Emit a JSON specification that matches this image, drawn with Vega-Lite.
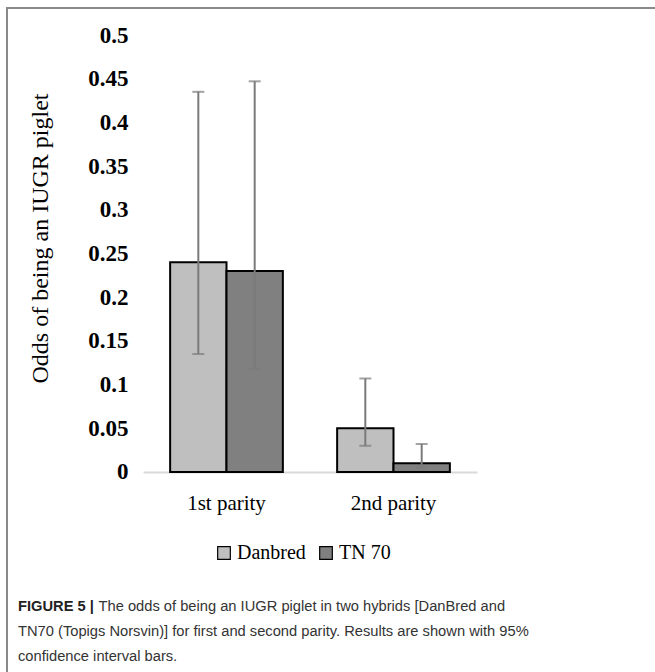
{
  "$schema": "https://vega.github.io/schema/vega-lite/v6.json",
  "width": 650,
  "height": 672,
  "autosize": "none",
  "padding": {"left": 7, "top": 8, "right": 0, "bottom": 0},
  "background": "white",
  "config": {
    "view": {"stroke": "#8a8a8a", "strokeWidth": 2, "fill": "white"}
  },
  "title": {
    "text": "FIGURE 5 |",
    "subtitle": [
      "TN70 (Topigs Norsvin)] for first and second parity. Results are shown with 95%",
      "confidence interval bars."
    ],
    "orient": "bottom",
    "anchor": "start",
    "frame": "group",
    "offset": -81,
    "dx": 11,
    "font": "Liberation Sans, sans-serif",
    "fontSize": 14.7,
    "fontWeight": "bold",
    "color": "#222222",
    "subtitleFont": "Liberation Sans, sans-serif",
    "subtitleFontSize": 14.7,
    "subtitleColor": "#333333",
    "subtitleLineHeight": 25.5,
    "subtitlePadding": 10
  },
  "data": {
    "values": [
      {"parity": "1st parity", "hybrid": "Danbred", "odds": 0.24, "lo": 0.135, "hi": 0.435},
      {"parity": "1st parity", "hybrid": "TN 70", "odds": 0.23, "lo": 0.118, "hi": 0.447},
      {"parity": "2nd parity", "hybrid": "Danbred", "odds": 0.05, "lo": 0.03, "hi": 0.107},
      {"parity": "2nd parity", "hybrid": "TN 70", "odds": 0.01, "lo": 0.005, "hi": 0.032}
    ]
  },
  "encoding": {
    "x": {
      "field": "parity",
      "type": "nominal",
      "sort": ["1st parity", "2nd parity"],
      "scale": {"range": [136, 470], "paddingInner": 0.325, "paddingOuter": 0.1625},
      "axis": {
        "title": "The odds of being an IUGR piglet in two hybrids [DanBred and",
        "titleFont": "Liberation Sans, sans-serif",
        "titleFontSize": 14.7,
        "titleFontWeight": "normal",
        "titleColor": "#333333",
        "titleX": 91,
        "titleY": 134,
        "titleAlign": "left",
        "titleBaseline": "middle",
        "orient": "bottom",
        "offset": -208,
        "domain": true,
        "domainColor": "#d9d9d9",
        "domainWidth": 2,
        "ticks": false,
        "labelAngle": 0,
        "labelFont": "Liberation Serif",
        "labelFontSize": 21,
        "labelColor": "black",
        "labelPadding": 20
      }
    },
    "xOffset": {"field": "hybrid", "type": "nominal", "sort": ["Danbred", "TN 70"], "scale": {"paddingInner": 0, "paddingOuter": 0}}
  },
  "layer": [
    {
      "mark": {"type": "bar", "stroke": "black", "strokeWidth": 2},
      "encoding": {
        "y": {
          "field": "odds",
          "type": "quantitative",
          "scale": {"domain": [-0.238, 0.5309], "nice": false, "zero": false},
          "axis": {
            "title": "Odds of being an IUGR piglet",
            "values": [0, 0.05, 0.1, 0.15, 0.2, 0.25, 0.3, 0.35, 0.4, 0.45, 0.5],
            "format": ".2~f",
            "offset": -125,
            "domain": false,
            "ticks": false,
            "grid": false,
            "labelPadding": 4,
            "labelFont": "Liberation Serif",
            "labelFontSize": 23,
            "labelFontWeight": "bold",
            "labelColor": "black",
            "titleFont": "Liberation Serif",
            "titleFontSize": 24,
            "titleFontWeight": "normal",
            "titleColor": "black",
            "titleX": -92,
            "titleY": 230,
            "titleBaseline": "middle",
            "titleAngle": -90
          }
        },
        "fill": {
          "field": "hybrid",
          "type": "nominal",
          "sort": ["Danbred", "TN 70"],
          "scale": {"range": ["#bfbfbf", "#808080"]},
          "legend": {
            "title": null,
            "orient": "none",
            "legendX": 207,
            "legendY": 535,
            "direction": "horizontal",
            "symbolType": "square",
            "symbolSize": 160,
            "symbolStrokeColor": "black",
            "symbolStrokeWidth": 1.2,
            "labelFont": "Liberation Serif",
            "labelFontSize": 20,
            "labelColor": "black",
            "labelOffset": 3,
            "columnPadding": 10
          }
        }
      }
    },
    {
      "mark": {"type": "rule", "color": "#7a7a7a", "strokeWidth": 2},
      "encoding": {
        "y": {"field": "lo", "type": "quantitative"},
        "y2": {"field": "hi"}
      }
    },
    {
      "mark": {"type": "tick", "color": "#7a7a7a", "thickness": 2, "size": 12},
      "encoding": {"y": {"field": "lo", "type": "quantitative"}}
    },
    {
      "mark": {"type": "tick", "color": "#7a7a7a", "thickness": 2, "size": 12},
      "encoding": {"y": {"field": "hi", "type": "quantitative"}}
    }
  ]
}
